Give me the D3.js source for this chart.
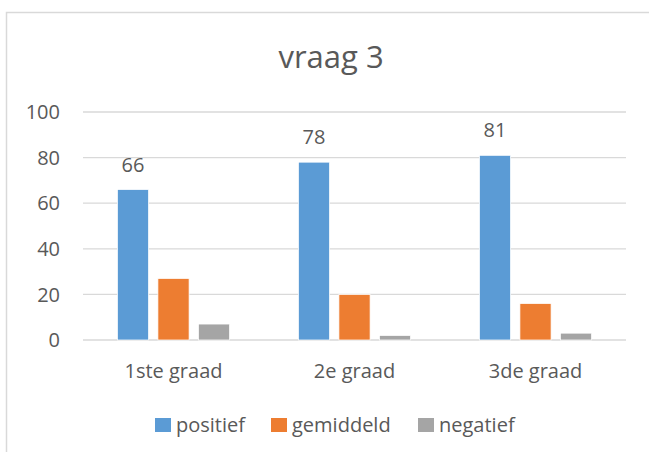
<!DOCTYPE html>
<html>
<head>
<meta charset="utf-8">
<script src="https://cdn.jsdelivr.net/npm/d3@7"></script>
<style>
  body { margin: 0; background: #fff; }
  svg text { font-family: "Open Sans", sans-serif; fill: #595959; }
</style>
</head>
<body>
<svg id="grafico"></svg>
<script>
var categorias = ['1ste graad', '2e graad', '3de graad'];
var series = ['positief', 'gemiddeld', 'negatief'];
var positief = [66, 78, 81];
var gemiddeld = [27, 20, 16];
var negatief = [7, 2, 3];
var ticksY = [0, 20, 40, 60, 80, 100];
var cores = ['#5B9BD5', '#ED7D31', '#A5A5A5'];

var largura = 649, altura = 452;
var svg = d3.select('#grafico')
            .attr('width', largura)
            .attr('height', altura);

// moldura do grafico
svg.append('rect')
   .attr('x', 6.5).attr('y', 12.5)
   .attr('width', 700).attr('height', 500)
   .attr('fill', '#fff')
   .attr('stroke', '#D9D9D9')
   .attr('stroke-width', 1.5);

svg.append('text')
   .attr('x', 331).attr('y', 68)
   .attr('text-anchor', 'middle')
   .style('font-size', '31px')
   .text('vraag 3');

var margem = { esquerda: 83, direita: 23, superior: 112, inferior: 112 };
var larguraPlotagem = largura - margem.esquerda - margem.direita;
var alturaPlotagem = altura - margem.superior - margem.inferior;

var plotagem = svg.append('g')
                  .attr('transform', 'translate(' + margem.esquerda + ',' + margem.superior + ')');

var x = d3.scaleBand().domain(categorias).range([0, larguraPlotagem]).padding(0);
var xs = d3.scaleBand().domain(series)
           .range([x.bandwidth() * 0.19, x.bandwidth() * 0.81])
           .paddingInner(0.23).paddingOuter(0);
var y = d3.scaleLinear().domain([0, 100]).range([alturaPlotagem, 0]);

plotagem.selectAll('.grade')
  .data(ticksY)
  .enter()
    .append('line')
    .classed('grade', true)
    .attr('x1', 0).attr('x2', larguraPlotagem)
    .attr('y1', d => y(d)).attr('y2', d => y(d))
    .attr('stroke', '#D9D9D9')
    .attr('stroke-width', 1.3);

plotagem.selectAll('.tick-y')
  .data(ticksY)
  .enter()
    .append('text')
    .classed('tick-y', true)
    .attr('x', -23)
    .attr('y', d => y(d))
    .attr('dy', '0.36em')
    .attr('text-anchor', 'end')
    .style('font-size', '20px')
    .text(d => d);

var valores = [positief, gemiddeld, negatief];
var dados = [];
categorias.forEach(function(c, i) {
  series.forEach(function(s, j) {
    dados.push({ categoria: c, serie: s, valor: valores[j][i], cor: cores[j] });
  });
});

plotagem.selectAll('.barra')
  .data(dados)
  .enter()
    .append('rect')
    .classed('barra', true)
    .attr('x', d => x(d.categoria) + xs(d.serie))
    .attr('y', d => y(d.valor))
    .attr('width', xs.bandwidth())
    .attr('height', d => alturaPlotagem - y(d.valor))
    .attr('fill', d => d.cor)
    .attr('stroke', '#fff')
    .attr('stroke-width', 0.75);

plotagem.selectAll('.rotulo')
  .data(dados.filter(d => d.serie === 'positief'))
  .enter()
    .append('text')
    .classed('rotulo', true)
    .attr('x', d => x(d.categoria) + xs(d.serie) + xs.bandwidth() / 2)
    .attr('y', d => y(d.valor))
    .attr('dy', -18)
    .attr('text-anchor', 'middle')
    .style('font-size', '20px')
    .text(d => d.valor);

plotagem.selectAll('.categoria')
  .data(categorias)
  .enter()
    .append('text')
    .classed('categoria', true)
    .attr('x', d => x(d) + x.bandwidth() / 2)
    .attr('y', alturaPlotagem + 38)
    .attr('text-anchor', 'middle')
    .style('font-size', '20px')
    .text(d => d);

// legenda
var legendaX = [155, 271, 418];
var legenda = svg.selectAll('.legenda')
  .data(series)
  .enter()
    .append('g')
    .classed('legenda', true)
    .attr('transform', (d, i) => 'translate(' + legendaX[i] + ',418)');

legenda.append('rect')
  .attr('width', 16).attr('height', 14)
  .attr('fill', (d, i) => cores[i]);

legenda.append('text')
  .attr('x', 21).attr('y', 14)
  .style('font-size', '20px')
  .text(d => d);
</script>
</body>
</html>
